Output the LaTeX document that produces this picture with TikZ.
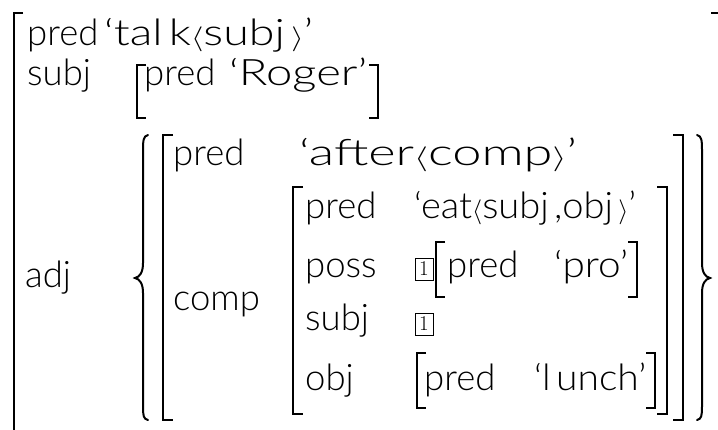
\documentclass[tikz,border=0pt]{standalone}
\usepackage{fontspec}
\IfFontExistsTF{Lato Light}{\newfontfamily\avmfam{Lato Light}}{\newfontfamily\avmfam{Lato}}
\newcommand\avmf{\avmfam\fontsize{36.5}{44}\selectfont}
\newcommand\lan{$\langle$}
\newcommand\ran{$\rangle$}
\newcommand\gp{\kern5pt}
\newcommand\fitw[2]{\resizebox{#1pt}{\height}{#2}}
\begin{document}
\begin{tikzpicture}[x=1pt,y=-1pt,
  lbl/.style={anchor=base west,inner sep=0pt,font=\avmf},
  brk/.style={line width=1.3pt},
  brc/.style={line width=2pt,line cap=round},
  tagbox/.style={line width=0.8pt},
  tagnum/.style={inner sep=0pt,font=\fontsize{21}{21}\selectfont\rmfamily}]
\useasboundingbox (0,0) rectangle (718,429);
\fill[white] (0,0) rectangle (718,429);
% outer matrix
\draw[brk] (23,13) -- (14,13) -- (14,440);
\draw[brk] (711,13) -- (718.6,13) -- (718.6,440);
\node[lbl] (p1) at (27,45) {pred};
\node[lbl] (v1) at (104,45) {\fitw{209}{‘tal\gp k\lan subj\gp\ran’}};
\node[lbl] (s1) at (27,85) {subj};
\draw[brk] (146,65) -- (137,65) -- (137,118) -- (146,118);
\node[lbl] (p2) at (144,85) {pred};
\node[lbl] (v2) at (229,85) {\fitw{138}{‘Roger’}};
\draw[brk] (369,65) -- (378,65) -- (378,118) -- (369,118);
\node[lbl] (a1) at (25,287) {adj};
% set braces
\draw[brc] (148,135) .. controls (143.5,136) and (143,140) .. (143,150) -- (143,263)
  .. controls (143,272) and (140,277) .. (135,278) .. controls (140,279) and (143,284) .. (143,293)
  -- (143,406) .. controls (143,416) and (143.5,419) .. (148,420);
\draw[brc] (697,135) .. controls (701.5,136) and (702,140) .. (702,150) -- (702,263)
  .. controls (702,272) and (705,277) .. (710,278) .. controls (705,279) and (702,284) .. (702,293)
  -- (702,406) .. controls (702,416) and (701.5,419) .. (697,420);
% adjunct matrix
\draw[brk] (173,135) -- (163,135) -- (163,420) -- (173,420);
\draw[brk] (673,135) -- (683,135) -- (683,420) -- (673,420);
\node[lbl] (p3) at (173,165) {pred};
\node[lbl] (v3) at (299,165) {\fitw{278}{‘after\lan comp\ran’}};
\node[lbl] (c1) at (173,310) {comp};
% comp matrix
\draw[brk] (303,187) -- (293,187) -- (293,414) -- (303,414);
\draw[brk] (657,187) -- (667,187) -- (667,414) -- (657,414);
\node[lbl] (p4) at (305,218) {pred};
\node[lbl] (v4) at (414,218) {\fitw{222}{‘eat\lan subj\gp,obj\gp\ran’}};
\node[lbl] (ps) at (305,277) {poss};
\draw[tagbox] (415,258) rectangle (433,280);
\node[tagnum] (t1) at (424,269) {1};
\draw[brk] (445,242) -- (436,242) -- (436,297) -- (445,297);
\node[lbl] (p5) at (447,277) {pred};
\node[lbl] (v5) at (554,277) {\fitw{74}{‘pro’}};
\draw[brk] (628,242) -- (637,242) -- (637,297) -- (628,297);
\node[lbl] (s2) at (305,330) {subj};
\draw[tagbox] (415,313) rectangle (433,335);
\node[tagnum] (t2) at (424,324) {1};
\node[lbl] (o1) at (305,390) {obj};
\draw[brk] (426,353) -- (417,353) -- (417,408) -- (426,408);
\node[lbl] (p6) at (424,390) {pred};
\node[lbl] (v6) at (534,390) {\fitw{112}{‘l\gp unch’}};
\draw[brk] (646,353) -- (655,353) -- (655,408) -- (646,408);
\end{tikzpicture}
\end{document}
